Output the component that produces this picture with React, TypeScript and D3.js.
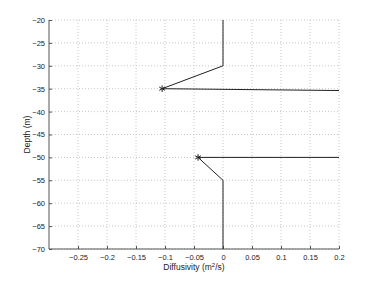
import React, { useEffect, useRef } from 'react';
import * as d3 from 'd3';

// profile 1 (upper feature)
const upperX = [0, 0, -0.105, 0.2];
const upperDepth = [-20, -30, -35, -35.4];
// profile 2 (lower feature)
const lowerX = [0, 0, -0.043, 0.2];
const lowerDepth = [-70, -55, -50, -50];
// starred points
const starX = [-0.105, -0.043];
const starDepth = [-35, -50];

const xTicks = [-0.25, -0.2, -0.15, -0.1, -0.05, 0, 0.05, 0.1, 0.15, 0.2];
const yTicks = [-20, -25, -30, -35, -40, -45, -50, -55, -60, -65, -70];

const App = () => {
  const ref = useRef<SVGSVGElement>(null);

  useEffect(() => {
    if (!ref.current) return;
    const svg = d3.select(ref.current);
    svg.selectAll('*').remove();

    const width = 374;
    const height = 281;
    const margin = { top: 20, right: 35, bottom: 32, left: 49 };
    const x = d3.scaleLinear().domain([-0.3, 0.2]).range([margin.left, width - margin.right]);
    const y = d3.scaleLinear().domain([-70, -20]).range([height - margin.bottom, margin.top]);
    const font = 'Helvetica, Arial, "Liberation Sans", sans-serif';

    // grid
    svg.append('g')
      .selectAll('line')
      .data(xTicks)
      .enter()
      .append('line')
      .attr('x1', d => x(d)).attr('x2', d => x(d))
      .attr('y1', y(-20)).attr('y2', y(-70))
      .attr('stroke', '#c8c8c8').attr('stroke-width', 1)
      .attr('stroke-dasharray', '1,2');
    svg.append('g')
      .selectAll('line')
      .data(yTicks)
      .enter()
      .append('line')
      .attr('x1', x(-0.3)).attr('x2', x(0.2))
      .attr('y1', d => y(d)).attr('y2', d => y(d))
      .attr('stroke', '#c8c8c8').attr('stroke-width', 1)
      .attr('stroke-dasharray', '1,2');

    // axes
    const xAxis = d3.axisBottom(x).tickValues(xTicks).tickSize(-3).tickPadding(6)
      .tickFormat(d => (+d === 0 ? '0' : String(+d).replace('-', '\u2212').replace(/^(\u2212?)0\./, '$10.')));
    const gx = svg.append('g').attr('transform', `translate(0,${y(-70)})`).call(xAxis);
    gx.select('.domain').attr('d', `M${x(-0.3)},0H${x(0.2)}`).attr('stroke', '#555');
    gx.selectAll('.tick line').attr('stroke', '#555');
    gx.selectAll('text').attr('font-family', font).attr('font-size', 7.5).attr('fill', '#222');

    const yAxis = d3.axisLeft(y).tickValues(yTicks).tickSize(-3).tickPadding(4)
      .tickFormat(d => String(d).replace('-', '\u2212'));
    const gy = svg.append('g').attr('transform', `translate(${x(-0.3)},0)`).call(yAxis);
    gy.select('.domain').attr('d', `M0,${y(-20)}V${y(-70)}`).attr('stroke', '#555');
    gy.selectAll('.tick line').attr('stroke', '#555');
    gy.selectAll('text').attr('font-family', font).attr('font-size', 7.5).attr('fill', '#222');

    // lines
    const line = d3.line<[number, number]>().x(d => x(d[0])).y(d => y(d[1]));
    svg.append('path')
      .datum(upperX.map((v, i) => [v, upperDepth[i]] as [number, number]))
      .attr('d', line).attr('fill', 'none').attr('stroke', '#222').attr('stroke-width', 1);
    svg.append('path')
      .datum(lowerX.map((v, i) => [v, lowerDepth[i]] as [number, number]))
      .attr('d', line).attr('fill', 'none').attr('stroke', '#222').attr('stroke-width', 1);

    // star markers
    const star = d3.symbol().type(d3.symbolAsterisk).size(30);
    svg.append('g')
      .selectAll('path')
      .data(starX)
      .enter()
      .append('path')
      .attr('d', star)
      .attr('transform', (d, i) => `translate(${x(d)},${y(starDepth[i])})`)
      .attr('fill', 'none').attr('stroke', '#222').attr('stroke-width', 1);

    // labels
    const xl = svg.append('text')
      .attr('x', (x(-0.3) + x(0.2)) / 2)
      .attr('y', 270)
      .attr('text-anchor', 'middle')
      .attr('font-family', font).attr('font-size', 8.5).attr('fill', '#222');
    xl.append('tspan').text('Diffusivity (m');
    xl.append('tspan').attr('font-size', 6).attr('dy', -3).text('2');
    xl.append('tspan').attr('dy', 3).text('/s)');

    svg.append('text')
      .attr('transform', `translate(30,${(y(-20) + y(-70)) / 2}) rotate(-90)`)
      .attr('text-anchor', 'middle')
      .attr('font-family', font).attr('font-size', 8.5).attr('fill', '#222')
      .text('Depth (m)');
  }, []);

  return (
    <svg
      ref={ref}
      width={374}
      height={281}
      style={{ position: 'absolute', left: 0, top: 0, background: '#fff' }}
    />
  );
};

export default App;
